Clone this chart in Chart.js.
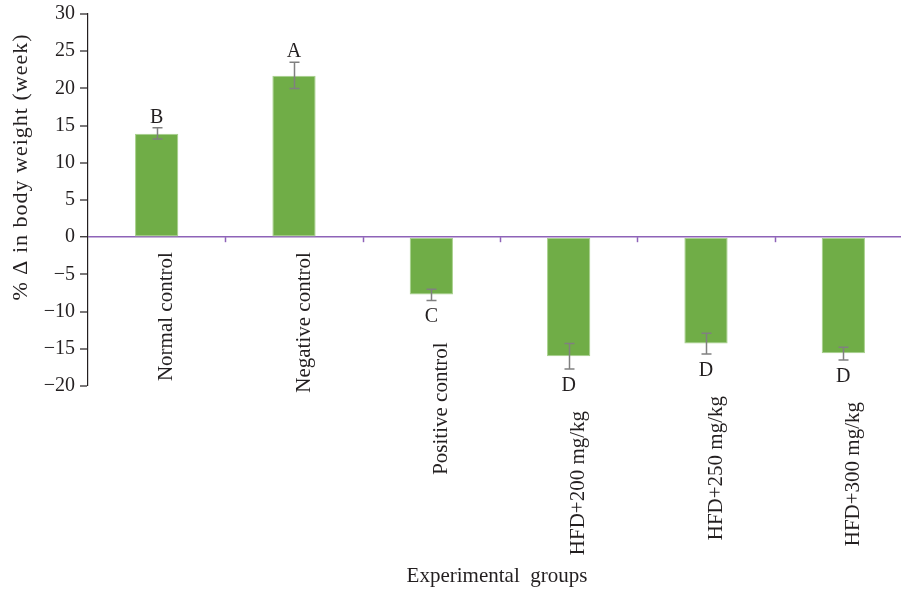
<!DOCTYPE html>
<html>
<head>
<meta charset="utf-8">
<script src="https://cdn.jsdelivr.net/npm/chart.js@4"></script>
<style>
  html, body { margin: 0; padding: 0; background: #fff; overflow: hidden; }
  #wrap { width: 901px; height: 589px; overflow: hidden; }
</style>
</head>
<body>
<div id="wrap"><canvas id="chart" width="912" height="589"></canvas></div>
<script>
const groups = ['Normal control', 'Negative control', 'Positive control', 'HFD+200 mg/kg', 'HFD+250 mg/kg', 'HFD+300 mg/kg'];
const changes = [13.9, 21.7, -7.7, -16.0, -14.3, -15.6];
const errLow = [13.2, 20.0, -8.5, -17.7, -15.7, -16.5];
const errHigh = [14.7, 23.5, -7.0, -14.3, -12.9, -14.8];
const letters = ['B', 'A', 'C', 'D', 'D', 'D'];
const yTicks = [30, 25, 20, 15, 10, 5, 0, -5, -10, -15, -20];

const serif = '"Liberation Serif", "DejaVu Serif", serif';

// error bars, letters, rotated group labels, axis titles
const extras = {
    id: 'extras',
    afterDatasetsDraw(chart) {
        const ctx = chart.ctx;
        const x = chart.scales.x;
        const y = chart.scales.y;
        const meta = chart.getDatasetMeta(0);
        const zero = y.getPixelForValue(0);

        ctx.save();
        // tick marks between categories on the zero line
        ctx.strokeStyle = '#8e63b8';
        ctx.lineWidth = 1.5;
        for (let i = 0; i < groups.length - 1; i++) {
            const bx = Math.round((x.getPixelForValue(i) + x.getPixelForValue(i + 1)) / 2) + 0.5;
            ctx.beginPath();
            ctx.moveTo(bx, zero);
            ctx.lineTo(bx, zero + 5);
            ctx.stroke();
        }

        meta.data.forEach((bar, i) => {
            const cx = Math.round(bar.x) + 0.5;
            const top = y.getPixelForValue(errHigh[i]);
            const bot = y.getPixelForValue(errLow[i]);
            ctx.strokeStyle = '#808080';
            ctx.lineWidth = 1.5;
            ctx.beginPath();
            ctx.moveTo(cx, top); ctx.lineTo(cx, bot);
            ctx.moveTo(cx - 5, top); ctx.lineTo(cx + 5, top);
            ctx.moveTo(cx - 5, bot); ctx.lineTo(cx + 5, bot);
            ctx.stroke();

            ctx.fillStyle = '#231f20';
            ctx.font = '20px ' + serif;
            ctx.textAlign = 'center';
            ctx.textBaseline = 'alphabetic';
            let labelTop = zero + 15;
            if (changes[i] >= 0) {
                ctx.fillText(letters[i], bar.x, top - 5);
            } else {
                const base = bot + 22;
                ctx.fillText(letters[i], bar.x, base);
                labelTop = Math.max(labelTop, base + 20);
            }

            // group label, reading upwards, ending at labelTop
            ctx.save();
            ctx.translate(bar.x + 10, labelTop);
            ctx.rotate(-Math.PI / 2);
            ctx.font = '21px ' + serif;
            ctx.textAlign = 'right';
            ctx.textBaseline = 'middle';
            ctx.fillText(groups[i], 0, 0);
            ctx.restore();
        });

        // axis titles
        ctx.fillStyle = '#231f20';
        ctx.font = '21px ' + serif;
        ctx.textAlign = 'center';
        ctx.textBaseline = 'middle';
        ctx.fillText('Experimental  groups', 497, 576);

        ctx.save();
        ctx.translate(21, 167);
        ctx.rotate(-Math.PI / 2);
        ctx.font = '22px ' + serif;
        ctx.letterSpacing = '1px';
        ctx.fillText('% \u0394 in body weight (week)', 0, 0);
        ctx.restore();
        ctx.restore();
    }
};

new Chart(document.getElementById('chart'), {
    type: 'bar',
    data: {
        labels: groups,
        datasets: [{
            data: changes,
            backgroundColor: '#70ad47',
            borderColor: '#a6d08a',
            borderWidth: 1,
            borderSkipped: false,
            categoryPercentage: 0.315,
            barPercentage: 1
        }]
    },
    options: {
        responsive: false,
        animation: false,
        layout: { padding: { top: 14, bottom: 203, left: 0, right: 0 } },
        plugins: { legend: { display: false }, tooltip: { enabled: false } },
        scales: {
            x: {
                display: false
            },
            y: {
                min: Math.min(...yTicks),
                max: Math.max(...yTicks),
                afterFit: scale => { scale.width = 88; scale.paddingTop = 0; scale.paddingBottom = 0; },
                afterBuildTicks: scale => { scale.ticks = yTicks.map(v => ({ value: v })); },
                ticks: {
                    color: '#231f20',
                    padding: 5,
                    font: { family: serif, size: 20, lineHeight: 1 },
                    callback: v => String(v).replace('-', '\u2212')
                },
                grid: {
                    color: c => (c.tick && c.tick.value === 0) ? '#8e63b8' : 'transparent',
                    lineWidth: c => (c.tick && c.tick.value === 0) ? 1.5 : 0,
                    tickColor: '#231f20',
                    tickWidth: 1.2,
                    tickLength: 8,
                    drawTicks: true
                },
                border: { color: '#231f20', width: 1.2 }
            }
        }
    },
    plugins: [extras]
});
</script>
</body>
</html>
